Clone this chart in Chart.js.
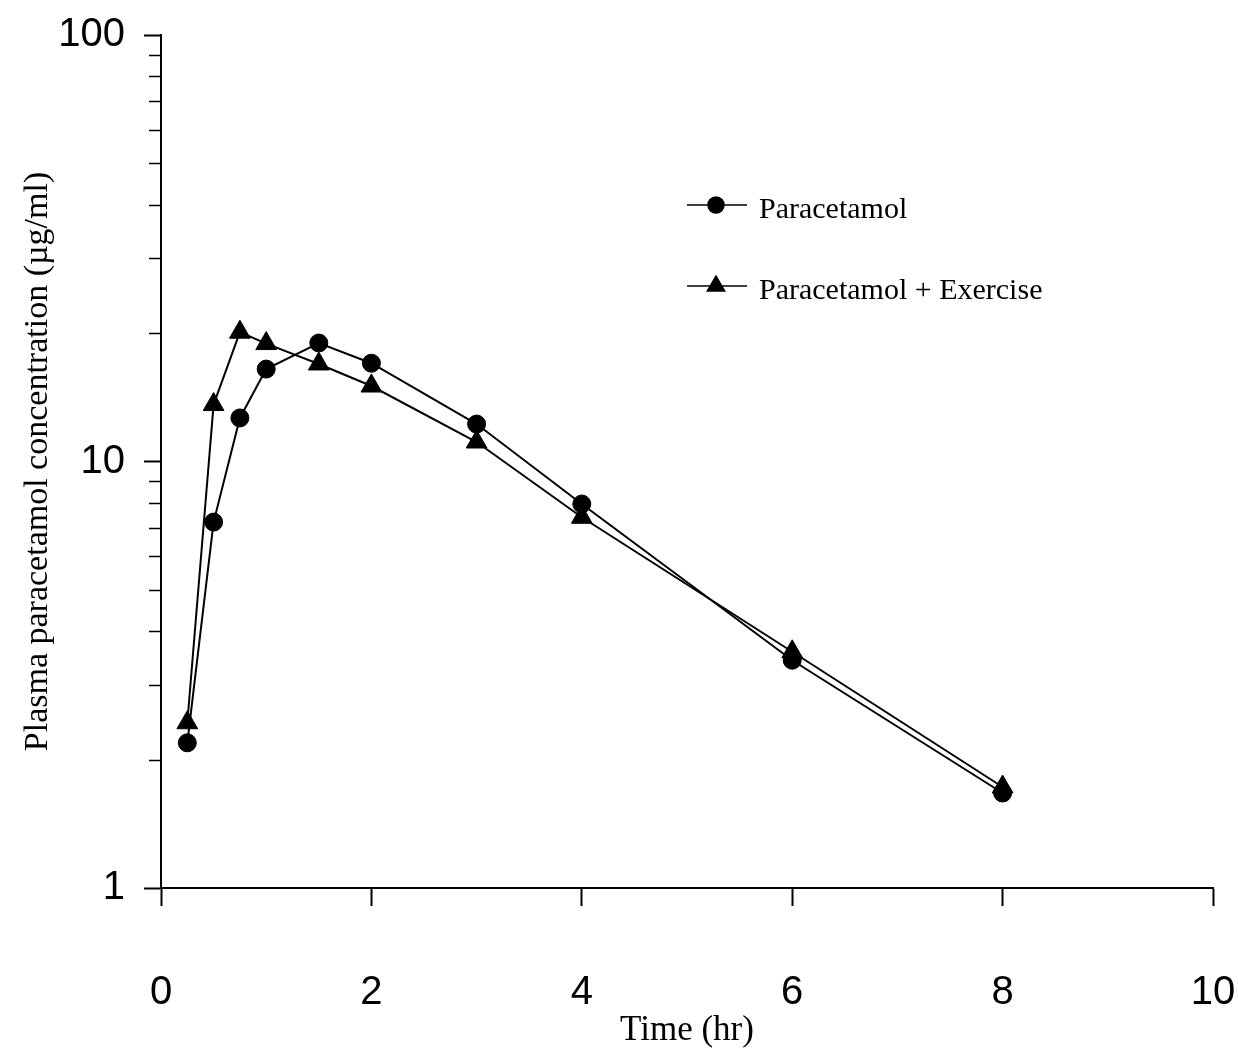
<!DOCTYPE html>
<html><head><meta charset="utf-8">
<script src="https://cdn.jsdelivr.net/npm/chart.js@4/dist/chart.umd.min.js"></script>
<style>html,body{margin:0;padding:0;background:#fff}canvas{display:block}</style>
</head><body>
<canvas id="c" width="1238" height="1061"></canvas>
<script>
const times = [0.25, 0.5, 0.75, 1, 1.5, 2, 3, 4, 6, 8];
const paracetamol = [2.19, 7.21, 12.65, 16.47, 18.96, 17.0, 12.24, 7.95, 3.42, 1.67];
const paracetamolExercise = [2.44, 13.6, 20.1, 18.9, 16.93, 15.03, 11.11, 7.40, 3.58, 1.725];
const seriesLabels = ['Paracetamol', 'Paracetamol + Exercise'];
const xTickValues = [0, 2, 4, 6, 8, 10];
const yTickValues = [1, 2, 3, 4, 5, 6, 7, 8, 9, 10, 20, 30, 40, 50, 60, 70, 80, 90, 100];
const yTickLabels = ['1', '10', '100'];
const xTitle = 'Time (hr)';
const yTitle = 'Plasma paracetamol concentration (µg/ml)';

const isLabelled = v => yTickLabels.includes(String(v));

const minorTicks = {
  id: 'minorTicks',
  afterDraw(chart) {
    const ys = chart.scales.y, ctx = chart.ctx, left = chart.chartArea.left;
    ctx.save();
    ctx.strokeStyle = '#000';
    ctx.lineWidth = 1.5;
    ys.ticks.forEach(t => {
      if (!isLabelled(t.value)) {
        const py = Math.round(ys.getPixelForValue(t.value)) + 0.5;
        ctx.beginPath();
        ctx.moveTo(left - 12, py);
        ctx.lineTo(left, py);
        ctx.stroke();
      }
    });
    ctx.restore();
  }
};

const customLegend = {
  id: 'customLegend',
  afterDraw(chart) {
    const ctx = chart.ctx, ca = chart.chartArea;
    const x0 = ca.left + 526, x1 = ca.left + 586, mx = ca.left + 555, tx = ca.left + 598;
    const rows = [ca.top + 170, ca.top + 251];
    ctx.save();
    chart.data.datasets.forEach((ds, i) => {
      const y = rows[i];
      ctx.strokeStyle = '#000';
      ctx.lineWidth = 1.5;
      ctx.beginPath();
      ctx.moveTo(x0, y); ctx.lineTo(x1, y); ctx.stroke();
      Chart.helpers.drawPoint(ctx, {pointStyle: ds.pointStyle, radius: i === 0 ? 8 : 10, borderWidth: 1, rotation: 0}, mx, y);
      ctx.fillStyle = '#000';
      ctx.fill();
      ctx.font = '30px "Liberation Serif", "Times New Roman", serif';
      ctx.textBaseline = 'alphabetic';
      ctx.textAlign = 'left';
      ctx.fillText(ds.label, tx, y + 13);
    });
    ctx.restore();
  }
};

new Chart(document.getElementById('c'), {
  type: 'line',
  data: {
    datasets: [
      {
        label: seriesLabels[0],
        data: times.map((t, i) => ({x: t, y: paracetamol[i]})),
        borderColor: '#000', borderWidth: 2,
        pointStyle: 'circle', pointRadius: 9,
        pointBackgroundColor: '#000', pointBorderColor: '#000', pointBorderWidth: 1,
        tension: 0, fill: false
      },
      {
        label: seriesLabels[1],
        data: times.map((t, i) => ({x: t, y: paracetamolExercise[i]})),
        borderColor: '#000', borderWidth: 2,
        pointStyle: 'triangle', pointRadius: 12,
        pointBackgroundColor: '#000', pointBorderColor: '#000', pointBorderWidth: 1,
        tension: 0, fill: false
      }
    ]
  },
  options: {
    responsive: false,
    animation: false,
    events: [],
    layout: {padding: {left: 14, right: 25, top: 35, bottom: 0}},
    plugins: {legend: {display: false}, tooltip: {enabled: false}},
    scales: {
      x: {
        type: 'linear', min: 0, max: 10,
        afterBuildTicks: s => { s.ticks = xTickValues.map(v => ({value: v})); },
        afterFit: s => { s.height = 173; s.paddingLeft = 0; s.paddingRight = 0; },
        ticks: {
          color: '#000', padding: 63, maxRotation: 0, autoSkip: false,
          font: {family: '"Liberation Sans", Arial, sans-serif', size: 40, lineHeight: 1.2}
        },
        grid: {drawOnChartArea: false, drawTicks: true, tickLength: 18, tickColor: '#000', tickWidth: 2},
        border: {display: true, color: '#000', width: 2},
        title: {
          display: true, text: xTitle, color: '#000', padding: {top: 0, bottom: 9},
          font: {family: '"Liberation Serif", "Times New Roman", serif', size: 35, lineHeight: 1.2}
        }
      },
      y: {
        type: 'logarithmic', min: 1, max: 100,
        afterBuildTicks: s => { s.ticks = yTickValues.map(v => ({value: v, major: isLabelled(v)})); },
        afterFit: s => { s.width = 147; s.paddingTop = 0; s.paddingBottom = 0; },
        ticks: {
          color: '#000', padding: 19, autoSkip: false,
          callback: v => isLabelled(v) ? String(v) : '',
          font: {family: '"Liberation Sans", Arial, sans-serif', size: 40, lineHeight: 1.2}
        },
        grid: {
          drawOnChartArea: false, drawTicks: true, tickLength: 17, tickWidth: 2,
          tickColor: c => (c.tick && isLabelled(c.tick.value)) ? '#000' : 'rgba(0,0,0,0)'
        },
        border: {display: true, color: '#000', width: 2},
        title: {
          display: true, text: yTitle, color: '#000', padding: {top: 4, bottom: 4},
          font: {family: '"Liberation Serif", "Times New Roman", serif', size: 34, lineHeight: 1.2}
        }
      }
    }
  },
  plugins: [minorTicks, customLegend]
});
</script>
</body></html>
